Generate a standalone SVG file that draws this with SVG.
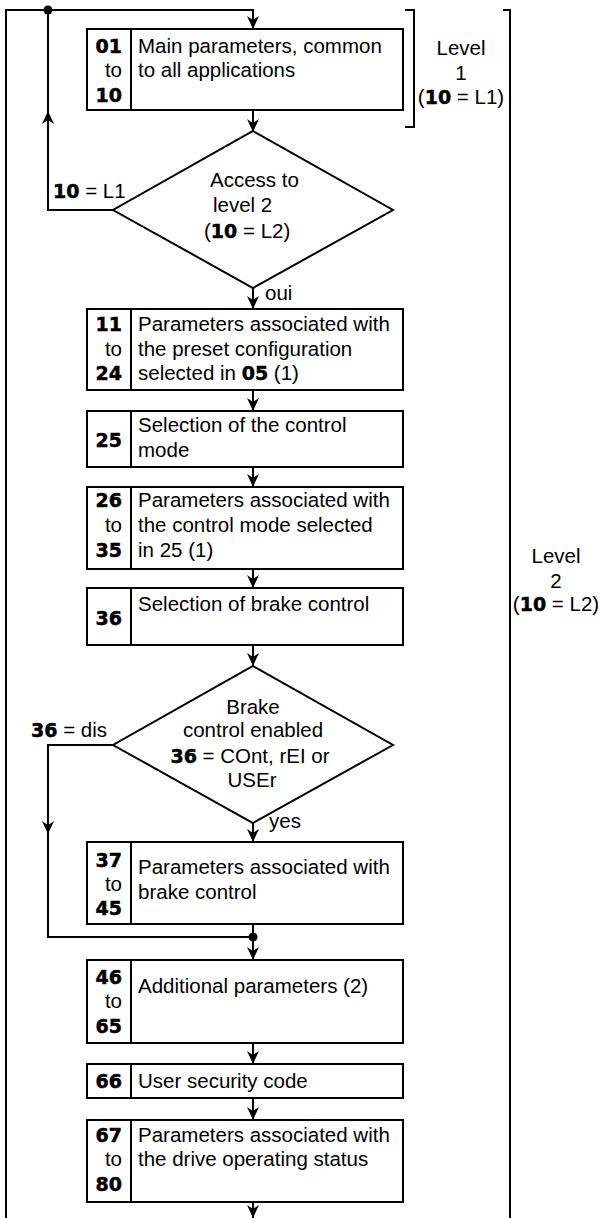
<svg xmlns="http://www.w3.org/2000/svg" width="600" height="1218" viewBox="0 0 600 1218">
<style>
.box{fill:#fff;stroke:#000;stroke-width:2}
.ln{fill:none;stroke:#000;stroke-width:2}
.arr{fill:none;stroke:#000;stroke-width:2;marker-end:url(#ah)}
.t{font-family:"Liberation Sans",Arial,sans-serif;font-size:20.5px;fill:#000}
.n{font-family:"DejaVu Sans",sans-serif;font-weight:bold;font-size:19px;fill:#000;stroke:#000;stroke-width:0.5;text-anchor:end}
.b{font-family:"DejaVu Sans",sans-serif;font-weight:bold;font-size:19px;stroke:#000;stroke-width:0.5}
.nt{text-anchor:end}
.m{text-anchor:middle}
</style>
<defs>
<marker id="ah" markerUnits="userSpaceOnUse" viewBox="0 0 13 12" refX="13" refY="6" markerWidth="13" markerHeight="12" orient="auto">
<path d="M0,0 L13,6 L0,12 L4,6 z" fill="#000"/>
</marker>
</defs>
<g id="connectors">
<path class="arr" d="M6,1218 V10 H253 V29"/>
<path class="arr" d="M113,210 H48 V111"/>
<path class="ln" d="M48,114 V10"/>
<path class="arr" d="M253,110 V132"/>
<path class="arr" d="M253,288 V309"/>
<path class="arr" d="M253,390 V411"/>
<path class="arr" d="M253,467 V487"/>
<path class="arr" d="M253,569 V588"/>
<path class="arr" d="M253,645 V666"/>
<path class="arr" d="M253,823 V842"/>
<path class="arr" d="M113,745 H48 V834"/>
<path class="ln" d="M48,831 V937 H253"/>
<path class="ln" d="M253,924 V937"/>
<path class="arr" d="M253,937 V960"/>
<path class="arr" d="M253,1043 V1064"/>
<path class="arr" d="M253,1098 V1120"/>
<path class="arr" d="M253,1202 V1218"/>
<circle cx="48" cy="10" r="4.5" fill="#000"/>
<circle cx="253" cy="937" r="4.5" fill="#000"/>
<text class="t" x="53" y="198"><tspan class="b">10</tspan> = L1</text>
<text class="t" x="265" y="300">oui</text>
<text class="t" x="31" y="737"><tspan class="b">36</tspan> = dis</text>
<text class="t" x="269" y="828">yes</text>
</g>
<g id="level1">
<path class="ln" d="M405,10 H414 V127 H405"/>
<text class="t m" x="461" y="55">Level</text>
<text class="t m" x="461" y="80">1</text>
<text class="t m" x="461" y="104">(<tspan class="b">10</tspan> = L1)</text>
</g>
<g id="level2">
<path class="ln" d="M503,10 H510 V1218"/>
<text class="t m" x="556" y="563">Level</text>
<text class="t m" x="556" y="588">2</text>
<text class="t m" x="556" y="611">(<tspan class="b">10</tspan> = L2)</text>
</g>
<g id="box01">
<rect class="box" x="87" y="29" width="316" height="81"/>
<path class="ln" d="M131,29 V110"/>
<text class="n" x="122" y="53">01</text>
<text class="t nt" x="122" y="77">to</text>
<text class="n" x="122" y="102">10</text>
<text class="t" x="138" y="53">Main parameters, common</text>
<text class="t" x="138" y="77">to all applications</text>
</g>
<g id="diamond1">
<path class="box" d="M253,131 L393,210 L253,288 L113,210 Z"/>
<text class="t" x="210" y="187">Access to</text>
<text class="t" x="213" y="212">level 2</text>
<text class="t" x="204" y="238">(<tspan class="b">10</tspan> = L2)</text>
</g>
<g id="box11">
<rect class="box" x="87" y="309" width="316" height="81"/>
<path class="ln" d="M131,309 V390"/>
<text class="n" x="122" y="331">11</text>
<text class="t nt" x="122" y="356">to</text>
<text class="n" x="122" y="380">24</text>
<text class="t" x="138" y="331">Parameters associated with</text>
<text class="t" x="138" y="356">the preset configuration</text>
<text class="t" x="138" y="380">selected in <tspan class="b">05</tspan> (1)</text>
</g>
<g id="box25">
<rect class="box" x="87" y="411" width="316" height="56"/>
<path class="ln" d="M131,411 V467"/>
<text class="n" x="122" y="447">25</text>
<text class="t" x="138" y="432">Selection of the control</text>
<text class="t" x="138" y="457">mode</text>
</g>
<g id="box26">
<rect class="box" x="87" y="487" width="316" height="82"/>
<path class="ln" d="M131,487 V569"/>
<text class="n" x="122" y="507">26</text>
<text class="t nt" x="122" y="532">to</text>
<text class="n" x="122" y="557">35</text>
<text class="t" x="138" y="507">Parameters associated with</text>
<text class="t" x="138" y="532">the control mode selected</text>
<text class="t" x="138" y="557">in 25 (1)</text>
</g>
<g id="box36">
<rect class="box" x="87" y="588" width="316" height="57"/>
<path class="ln" d="M131,588 V645"/>
<text class="n" x="122" y="625">36</text>
<text class="t" x="138" y="611">Selection of brake control</text>
</g>
<g id="diamond2">
<path class="box" d="M253,666 L393,745 L253,823 L113,745 Z"/>
<text class="t m" x="253" y="714">Brake</text>
<text class="t m" x="253" y="737">control enabled</text>
<text class="t m" x="250" y="763"><tspan class="b">36</tspan> = COnt, rEI or</text>
<text class="t m" x="252" y="787">USEr</text>
</g>
<g id="box37">
<rect class="box" x="87" y="842" width="316" height="82"/>
<path class="ln" d="M131,842 V924"/>
<text class="n" x="122" y="867">37</text>
<text class="t nt" x="122" y="891">to</text>
<text class="n" x="122" y="915">45</text>
<text class="t" x="138" y="874">Parameters associated with</text>
<text class="t" x="138" y="899">brake control</text>
</g>
<g id="box46">
<rect class="box" x="87" y="960" width="316" height="83"/>
<path class="ln" d="M131,960 V1043"/>
<text class="n" x="122" y="984">46</text>
<text class="t nt" x="122" y="1008">to</text>
<text class="n" x="122" y="1033">65</text>
<text class="t" x="138" y="993">Additional parameters (2)</text>
</g>
<g id="box66">
<rect class="box" x="87" y="1064" width="316" height="34"/>
<path class="ln" d="M131,1064 V1098"/>
<text class="n" x="122" y="1088">66</text>
<text class="t" x="138" y="1088">User security code</text>
</g>
<g id="box67">
<rect class="box" x="87" y="1120" width="316" height="82"/>
<path class="ln" d="M131,1120 V1202"/>
<text class="n" x="122" y="1142">67</text>
<text class="t nt" x="122" y="1166">to</text>
<text class="n" x="122" y="1191">80</text>
<text class="t" x="138" y="1142">Parameters associated with</text>
<text class="t" x="138" y="1166">the drive operating status</text>
</g>
</svg>
